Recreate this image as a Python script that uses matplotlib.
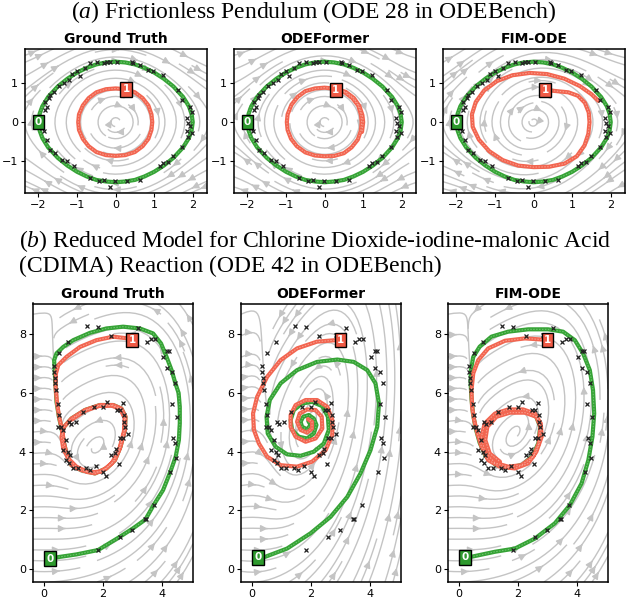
import numpy as np
import matplotlib
matplotlib.use("Agg")
import matplotlib.pyplot as plt

plt.rcParams['mathtext.fontset'] = 'custom'
plt.rcParams['mathtext.it'] = 'Liberation Serif:italic'
plt.rcParams['mathtext.rm'] = 'Liberation Serif'

# ---- data ----
panel_titles = ["Ground Truth", "ODEFormer", "FIM-ODE"]

# pendulum: x' = y, y' = -k sin(x) (+ model variations)
pend_k = 0.9
pend_fim_growth = 0.15

pend_gt_0 = [(-2.00, 0.00), (-1.97, 0.22), (-1.90, 0.41), (-1.75, 0.65), (-1.50, 0.92),
             (-1.25, 1.12), (-1.00, 1.28), (-0.75, 1.40), (-0.50, 1.49), (-0.25, 1.54),
             (0.00, 1.56), (0.25, 1.54), (0.50, 1.49), (0.75, 1.40), (1.00, 1.28),
             (1.25, 1.12), (1.50, 0.92), (1.75, 0.65), (1.90, 0.41), (1.97, 0.22),
             (2.00, 0.00), (1.97, -0.22), (1.90, -0.41), (1.75, -0.65), (1.50, -0.92),
             (1.25, -1.12), (1.00, -1.28), (0.75, -1.40), (0.50, -1.49), (0.25, -1.53),
             (0.00, -1.55), (-0.25, -1.53), (-0.50, -1.49), (-0.75, -1.40), (-1.00, -1.28),
             (-1.25, -1.12), (-1.50, -0.92), (-1.75, -0.65), (-1.90, -0.41), (-1.97, -0.22),
             (-2.00, 0.00)]
pend_gt_1 = [(0.27, 0.85), (0.50, 0.77), (0.70, 0.62), (0.85, 0.43), (0.93, 0.20),
             (0.95, 0.00), (0.93, -0.20), (0.85, -0.43), (0.70, -0.62), (0.50, -0.77),
             (0.25, -0.85), (0.00, -0.87), (-0.25, -0.85), (-0.50, -0.77), (-0.70, -0.62),
             (-0.85, -0.43), (-0.95, -0.20), (-0.97, 0.00), (-0.95, 0.20), (-0.85, 0.43),
             (-0.70, 0.62), (-0.50, 0.77), (-0.25, 0.85), (0.00, 0.87), (0.27, 0.85)]
pend_odef_0 = pend_gt_0
pend_odef_1 = [(0.29, 0.83), (0.52, 0.77), (0.72, 0.62), (0.87, 0.43), (0.94, 0.20),
               (0.96, 0.00), (0.94, -0.22), (0.86, -0.45), (0.70, -0.65), (0.50, -0.80),
               (0.25, -0.87), (0.00, -0.88), (-0.25, -0.86), (-0.50, -0.78), (-0.72, -0.62),
               (-0.87, -0.43), (-0.96, -0.20), (-0.98, 0.00), (-0.96, 0.20), (-0.86, 0.45),
               (-0.70, 0.65), (-0.50, 0.80), (-0.25, 0.87), (0.00, 0.89), (0.30, 0.86),
               (0.55, 0.78), (0.76, 0.62), (0.90, 0.42), (0.98, 0.18), (1.00, 0.00),
               (0.97, -0.25)]
pend_fim_0 = pend_gt_0
pend_fim_1 = [(0.30, 0.83), (0.60, 0.80), (0.90, 0.77), (1.15, 0.68), (1.33, 0.50),
              (1.43, 0.25), (1.45, 0.00), (1.42, -0.30), (1.32, -0.60), (1.12, -0.88),
              (0.80, -1.07), (0.40, -1.15), (0.00, -1.16), (-0.40, -1.12), (-0.80, -0.98),
              (-1.15, -0.75), (-1.42, -0.45), (-1.58, -0.12), (-1.60, 0.20), (-1.50, 0.52),
              (-1.28, 0.82), (-0.95, 1.06), (-0.55, 1.21), (-0.10, 1.27), (0.35, 1.24),
              (0.80, 1.12), (1.20, 0.93), (1.50, 0.72), (1.68, 0.55)]
pend_obs = [(-0.66, 1.52), (-0.92, 1.19), (-1.22, 1.09), (-1.00, 1.31), (-1.13, 1.25),
            (-0.79, 1.39), (-0.49, 1.54), (-0.14, 1.55), (0.03, 1.55), (0.42, 1.56),
            (0.85, 1.35), (0.98, 1.31), (1.23, 1.22), (1.62, 0.83), (1.71, 0.58),
            (1.92, 0.39), (1.97, 0.27), (1.84, 0.10), (1.88, -0.03), (1.92, -0.11),
            (1.84, -0.22), (1.97, -0.28), (1.88, -0.37), (1.71, -0.63), (1.49, -0.88),
            (1.23, -1.06), (1.37, -1.03), (1.15, -1.14), (0.63, -1.49), (0.29, -1.51),
            (-0.01, -1.53), (-0.14, -1.66), (-0.31, -1.49), (-0.44, -1.53), (-0.66, -1.44),
            (-1.09, -1.14), (-1.26, -1.01), (-1.39, -0.97), (-1.56, -0.80), (-1.71, -0.71),
            (-1.78, -0.46), (-1.86, -0.24), (-1.91, -0.15), (-1.84, 0.32), (-1.78, 0.40),
            (-1.82, 0.53), (-1.69, 0.70), (-1.60, 0.79), (-1.48, 0.92), (-1.35, 1.01),
            (-1.73, 0.62), (-0.31, 1.52), (-0.23, 1.56), (0.46, 1.52), (0.62, 1.47)]

# CDIMA: x' = a - x - 4xy/(1+x^2), y' = b x (1 - y/(1+x^2))
cdima_params = [(8.9, 1.4), (10.0, 4.0), (9.5, 1.6)]

cdima_gt_0 = [(0.19, 0.36), (0.36, 0.39), (1.10, 0.50), (1.84, 0.65), (2.58, 1.10),
              (3.03, 1.39), (3.45, 1.69), (3.74, 2.20), (4.05, 2.69), (4.30, 3.32),
              (4.48, 3.83), (4.59, 4.40), (4.62, 4.96), (4.62, 5.53), (4.58, 6.00),
              (4.47, 6.33), (4.34, 6.78), (4.17, 7.23), (3.98, 7.69), (3.71, 8.03),
              (3.26, 8.20), (2.69, 8.26), (2.12, 8.20), (1.56, 8.05), (0.99, 7.80),
              (0.65, 7.57), (0.42, 7.35), (0.34, 7.12), (0.36, 6.70), (0.39, 6.21),
              (0.42, 5.70), (0.50, 5.20), (0.60, 4.74), (0.68, 4.28), (0.76, 3.94),
              (0.93, 3.54), (1.27, 3.37), (1.73, 3.26), (2.12, 3.43), (2.41, 3.71),
              (2.60, 4.17), (2.75, 4.74), (2.77, 5.19), (2.63, 5.47), (2.35, 5.59),
              (1.90, 5.59), (1.39, 5.42), (0.93, 5.13), (0.68, 4.85)]
cdima_gt_1 = [(3.00, 7.80), (2.86, 7.86), (2.35, 7.92), (1.78, 7.80), (1.22, 7.57),
              (0.76, 7.23), (0.48, 6.95), (0.40, 6.66), (0.39, 6.21), (0.44, 5.64),
              (0.51, 5.19), (0.61, 4.74), (0.68, 4.28), (0.76, 3.94), (0.93, 3.54),
              (1.27, 3.37), (1.73, 3.26), (2.12, 3.43), (2.41, 3.71), (2.60, 4.17),
              (2.75, 4.74), (2.77, 5.19), (2.63, 5.47), (2.35, 5.59), (1.90, 5.59),
              (1.39, 5.42), (0.93, 5.13), (0.68, 4.85), (0.59, 4.51), (0.65, 4.11),
              (0.82, 3.77), (1.10, 3.49), (1.50, 3.30), (1.95, 3.32), (2.30, 3.60),
              (2.55, 4.05), (2.72, 4.70), (2.74, 5.15), (2.60, 5.45), (2.30, 5.57),
              (1.88, 5.56), (1.40, 5.40), (0.95, 5.10)]
cdima_odef_0 = [(0.20, 0.40), (0.45, 0.42), (1.19, 0.70), (1.99, 1.22), (2.67, 1.78),
                (3.24, 2.46), (3.69, 3.26), (4.03, 4.05), (4.26, 4.85), (4.32, 5.64),
                (4.20, 6.33), (3.92, 6.78), (3.46, 7.06), (2.90, 7.14), (2.21, 7.06),
                (1.53, 6.78), (0.97, 6.33), (0.60, 5.76), (0.49, 5.19), (0.53, 4.62),
                (0.80, 4.17), (1.19, 3.91), (1.65, 3.86), (2.10, 4.00), (2.44, 4.28),
                (2.61, 4.74), (2.58, 5.19), (2.39, 5.55), (2.04, 5.70), (1.70, 5.64),
                (1.42, 5.42), (1.31, 5.08), (1.36, 4.74), (1.59, 4.51), (1.87, 4.45),
                (2.10, 4.62), (2.19, 4.91), (2.10, 5.13), (1.93, 5.25), (1.74, 5.19),
                (1.65, 5.02), (1.70, 4.85), (1.87, 4.76), (1.99, 4.91), (1.91, 5.05)]
cdima_odef_1 = [(3.01, 7.80), (2.84, 7.80), (2.21, 7.75), (1.53, 7.52), (0.97, 7.12),
                (0.51, 6.55), (0.17, 5.87), (0.03, 5.30), (0.06, 4.74), (0.23, 4.28),
                (0.51, 3.83), (0.97, 3.54), (1.53, 3.49), (2.04, 3.66), (2.50, 4.05),
                (2.73, 4.57), (2.73, 5.08), (2.56, 5.53), (2.21, 5.76), (1.82, 5.76),
                (1.48, 5.59), (1.31, 5.25), (1.31, 4.85), (1.48, 4.51), (1.82, 4.34),
                (2.16, 4.45), (2.39, 4.79), (2.37, 5.19), (2.16, 5.42), (1.87, 5.44),
                (1.62, 5.30), (1.53, 5.02), (1.65, 4.74), (1.87, 4.65), (2.04, 4.79),
                (2.04, 5.02), (1.90, 5.11)]
cdima_fim_0 = [(0.19, 0.40), (0.42, 0.42), (1.22, 0.59), (1.90, 0.70), (2.58, 1.04),
               (3.26, 1.56), (3.77, 2.18), (4.17, 2.92), (4.40, 3.71), (4.54, 4.51),
               (4.60, 5.30), (4.56, 6.10), (4.45, 6.78), (4.22, 7.35), (3.94, 7.80),
               (3.54, 8.09), (3.03, 8.17), (2.35, 8.17), (1.67, 8.09), (1.10, 7.92),
               (0.70, 7.58), (0.48, 7.23), (0.40, 6.78), (0.39, 6.33), (0.42, 5.80),
               (0.47, 5.30), (0.56, 4.80), (0.70, 4.30), (0.90, 3.85), (1.25, 3.55),
               (1.70, 3.46), (2.15, 3.55), (2.50, 3.85), (2.70, 4.30), (2.76, 4.85),
               (2.62, 5.20), (2.25, 5.38), (1.75, 5.40), (1.28, 5.25), (0.98, 4.90)]
cdima_fim_1 = [(3.01, 7.80), (2.86, 7.82), (2.24, 7.86), (1.56, 7.78), (0.99, 7.52),
               (0.65, 7.12), (0.48, 6.67), (0.42, 6.10), (0.44, 5.53), (0.51, 5.08),
               (0.62, 4.62), (0.76, 4.17), (0.99, 3.71), (1.39, 3.49), (1.90, 3.43),
               (2.35, 3.60), (2.63, 4.00), (2.81, 4.51), (2.78, 4.96), (2.58, 5.30),
               (2.18, 5.44), (1.67, 5.44), (1.22, 5.30), (0.87, 4.96), (0.76, 4.51),
               (0.87, 4.00), (1.22, 3.62), (1.67, 3.49), (2.12, 3.54), (2.52, 3.83),
               (2.71, 4.28), (2.77, 4.85), (2.63, 5.19), (2.24, 5.33), (1.73, 5.33),
               (1.27, 5.19), (0.96, 4.85), (0.89, 4.40), (1.04, 3.94), (1.39, 3.66)]
cdima_obs = [(1.47, 8.29), (1.84, 8.26), (0.82, 7.75), (0.50, 7.38), (2.27, 7.95),
             (2.86, 7.97), (3.20, 8.20), (3.49, 7.75), (3.63, 7.83), (3.78, 7.84),
             (4.17, 7.44), (4.24, 7.44), (4.05, 7.23), (4.20, 6.84), (4.35, 6.70),
             (4.45, 6.33), (0.33, 6.93), (0.35, 6.72), (0.36, 6.50), (0.37, 6.33),
             (0.42, 6.10), (0.48, 5.64), (0.51, 5.25), (0.48, 4.85), (0.56, 4.85),
             (0.65, 4.74), (0.76, 4.40), (0.65, 4.05), (0.82, 4.00), (0.87, 3.88),
             (0.76, 3.71), (0.85, 3.62), (0.99, 3.43), (1.16, 3.46), (1.42, 3.45),
             (1.56, 3.37), (1.78, 3.51), (2.01, 3.32), (2.10, 3.18), (2.29, 3.88),
             (2.41, 3.94), (2.55, 3.58), (2.46, 4.08), (2.60, 4.45), (2.67, 4.45),
             (2.86, 4.62), (2.74, 4.85), (2.71, 5.02), (2.72, 5.25), (2.58, 5.42),
             (2.49, 5.42), (2.69, 5.67), (2.15, 5.68), (2.01, 5.53), (1.70, 5.53),
             (1.33, 5.36), (1.08, 5.02), (0.93, 4.96), (0.85, 5.00), (4.37, 5.64),
             (4.54, 5.19), (4.39, 4.47), (4.45, 4.28), (4.48, 3.77), (4.30, 3.32),
             (3.74, 2.20), (3.45, 1.69), (3.48, 1.69), (2.99, 1.33), (2.60, 1.10),
             (1.82, 0.65)]

GREEN = '#36a336'
GREEN_L = '#74c874'
RED = '#f26550'
RED_L = '#f7a394'
STREAM = '#c4c4c4'

W, H = 627, 598
fig = plt.figure(figsize=(W / 100, H / 100), dpi=100)


def rect(l, r, t, b):
    return [l / W, 1 - b / H, (r - l) / W, (b - t) / H]


def pend_field(X, Y, i):
    if i == 0:
        return Y, -pend_k * np.sin(X)
    if i == 1:
        return Y, -pend_k * X + 0.13 * X ** 3
    return Y, -pend_k * np.sin(X) + pend_fim_growth * Y


def cdima_field(X, Y, i):
    a, b = cdima_params[i]
    U = a - X - 4 * X * Y / (1 + X ** 2)
    V = b * X * (1 - Y / (1 + X ** 2))
    return U, V


def draw_traj(ax, pts, color, light, z):
    p = np.array(pts)
    ax.plot(p[:, 0], p[:, 1], color=color, lw=3.0, solid_capstyle='round',
            solid_joinstyle='round', zorder=z)
    ax.plot(p[:, 0], p[:, 1], color=light, lw=0.7, ls=(0, (1.5, 1.5)), zorder=z + 0.1)


def start_label(ax, pt, txt, color):
    ax.text(pt[0], pt[1], txt, color='white', fontsize=7.5, fontweight='bold',
            ha='center', va='center', zorder=8,
            bbox=dict(boxstyle='square,pad=0.22', fc=color, ec='black', lw=1.0))


def panel(ax, field, i, xlim, ylim, traj0, traj1, obs, xticks, yticks, dens):
    xs = np.linspace(xlim[0], xlim[1], 80)
    ys = np.linspace(ylim[0], ylim[1], 80)
    X, Y = np.meshgrid(xs, ys)
    U, V = field(X, Y, i)
    ax.streamplot(X, Y, U, V, color=STREAM, linewidth=1.0, arrowsize=1.0,
                  density=dens, zorder=1)
    draw_traj(ax, traj0, GREEN, GREEN_L, 3)
    draw_traj(ax, traj1, RED, RED_L, 4)
    o = np.array(obs)
    ax.plot(o[:, 0], o[:, 1], 'x', color='#222222', ms=3.2, mew=0.9, zorder=6)
    start_label(ax, traj0[0], '0', '#2e9a2e')
    start_label(ax, traj1[0], '1', '#ef5a45')
    ax.set_xlim(*xlim)
    ax.set_ylim(*ylim)
    ax.set_xticks(xticks)
    ax.set_yticks(yticks)
    ax.tick_params(labelsize=8, length=3, width=0.8, pad=2)
    for s in ax.spines.values():
        s.set_linewidth(1.1)
    ax.set_title(panel_titles[i], fontsize=10, fontweight='bold', pad=4)


row1 = [(25, 207), (234, 416), (443, 625)]
row2 = [(33, 193), (241, 401), (448, 608)]
pend_trajs = [(pend_gt_0, pend_gt_1), (pend_odef_0, pend_odef_1), (pend_fim_0, pend_fim_1)]
cdima_trajs = [(cdima_gt_0, cdima_gt_1), (cdima_odef_0, cdima_odef_1), (cdima_fim_0, cdima_fim_1)]

for i in range(3):
    ax = fig.add_axes(rect(row1[i][0], row1[i][1], 48.5, 193.5))
    panel(ax, pend_field, i, (-2.35, 2.37), (-1.84, 1.90),
          pend_trajs[i][0], pend_trajs[i][1], pend_obs,
          [-2, -1, 0, 1, 2], [-1, 0, 1], 0.75)

for i in range(3):
    ax = fig.add_axes(rect(row2[i][0], row2[i][1], 303.5, 582))
    panel(ax, cdima_field, i, (-0.38, 5.07), (-0.44, 9.05),
          cdima_trajs[i][0], cdima_trajs[i][1], cdima_obs,
          [0, 2, 4], [0, 2, 4, 6, 8], (0.7, 0.9))

fig.text(0.5, 1 - 12 / H, r'$\mathit{(a)}$ Frictionless Pendulum (ODE 28 in ODEBench)',
         family='Liberation Serif', fontsize=17, ha='center', va='center')
fig.text(19 / W, 1 - 241 / H, r'$\mathit{(b)}$ Reduced Model for Chlorine Dioxide-iodine-malonic Acid',
         family='Liberation Serif', fontsize=17, ha='left', va='center')
fig.text(19 / W, 1 - 266.5 / H, '(CDIMA) Reaction (ODE 42 in ODEBench)',
         family='Liberation Serif', fontsize=17, ha='left', va='center')

fig.savefig('out.png', dpi=100)
